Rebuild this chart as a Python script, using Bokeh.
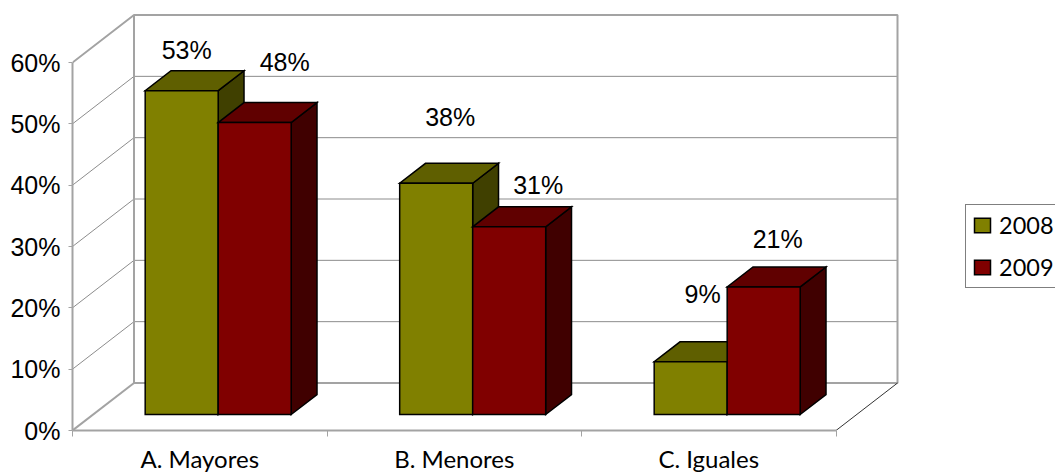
from bokeh.plotting import figure
from bokeh.models import FixedTicker, Legend, LegendItem, Range1d
from bokeh.embed import file_html
from bokeh.resources import INLINE
from bokeh.core.properties import value

categories = ["A. Mayores", "B. Menores", "C. Iguales"]
series_names = ["2008", "2009"]
values_2008 = [52.8, 37.7, 8.6]
values_2009 = [47.6, 30.6, 20.8]
labels_2008 = ["53%", "38%", "9%"]
labels_2009 = ["48%", "31%", "21%"]
y_ticks = [0, 10, 20, 30, 40, 50, 60]

# --- layout constants (page pixels -> data units)
WIDTH, HEIGHT = 1055, 473
FRAME_L, FRAME_B, FRAME_R, FRAME_T = 72, 430, 1055, 0
PX_X = 254.5            # pixels per category
PX_Y = 6.133            # pixels per percent
DX, DY = 61.5 / PX_X, 47.5 / PX_Y   # wall depth in data units
ncat = len(categories)
ymax = y_ticks[-1]

p = figure(width=WIDTH, height=HEIGHT, output_backend="svg", toolbar_location=None,
           x_range=Range1d(0, (FRAME_R - FRAME_L) / PX_X),
           y_range=Range1d(0, (FRAME_B - FRAME_T) / PX_Y),
           min_border_left=FRAME_L, min_border_right=0, min_border_top=0,
           min_border_bottom=HEIGHT - FRAME_B,
           frame_width=FRAME_R - FRAME_L, frame_height=FRAME_B - FRAME_T,
           outline_line_color=None, background_fill_color="white")
p.grid.visible = False

GRAY = "#a3a3a3"
THIN = "#8c8c8c"

# gridlines on left and back walls
for t in y_ticks[1:-1]:
    p.line([0, DX, ncat + DX], [t, t + DY, t + DY], line_color=THIN, line_width=1)
# back wall and left wall edges
p.line([0, DX, ncat + DX, ncat + DX, DX, DX], [ymax, ymax + DY, ymax + DY, DY, DY, ymax + DY],
       line_color=GRAY, line_width=2)
p.line([0, DX], [0, DY], line_color=GRAY, line_width=2)
p.line([ncat, ncat + DX], [0, DY], line_color="#333333", line_width=1)

# axes
ya = p.yaxis[0]
ya.ticker = FixedTicker(ticks=y_ticks)
ya.major_label_overrides = {t: f"{t}%" for t in y_ticks}
ya.bounds = (0, ymax)
ya.axis_line_color = GRAY
ya.axis_line_width = 2
ya.major_tick_line_color = GRAY
ya.major_tick_in = 0
ya.major_tick_out = 4
ya.minor_tick_line_color = None
ya.major_label_standoff = 8
ya.major_label_text_font = "Liberation Sans"
ya.major_label_text_font_size = "25px"
ya.major_label_text_color = "#000000"

xa = p.xaxis[0]
centers = [i + 0.5 for i in range(ncat)]
xa.ticker = FixedTicker(ticks=centers, minor_ticks=list(range(ncat + 1)))
xa.major_label_overrides = dict(zip(centers, categories))
xa.bounds = (0, ncat)
xa.axis_line_color = GRAY
xa.axis_line_width = 2
xa.major_tick_line_color = None
xa.minor_tick_line_color = GRAY
xa.minor_tick_in = 0
xa.minor_tick_out = 6
xa.major_label_standoff = 7
xa.major_label_text_font = "Lato"
xa.major_label_text_font_size = "24px"
xa.major_label_text_color = "#000000"

# bars
T0, T1 = 0.337, 0.757          # depth fractions of the bars' front and back
SHIFT = -0.009
BW = 73 / PX_X
COL = {"2008": ("#808000", "#5f5f00", "#404000"), "2009": ("#800000", "#600000", "#400000")}
OUT = dict(line_color="#000000", line_width=1.5, line_join="miter")
fronts = {}
for i in range(ncat):
    for j, (name, vals) in enumerate(zip(series_names, (values_2008, values_2009))):
        v = vals[i]
        x0 = i + 0.5 + SHIFT + (j - 1) * BW + T0 * DX
        x1 = x0 + BW
        yb = T0 * DY
        yt = yb + v
        ddx, ddy = (T1 - T0) * DX, (T1 - T0) * DY
        front, top, side = COL[name]
        p.patch([x1, x1 + ddx, x1 + ddx, x1], [yb, yb + ddy, yt + ddy, yt], fill_color=side, **OUT)
        p.patch([x0, x1, x1 + ddx, x0 + ddx], [yt, yt, yt + ddy, yt + ddy], fill_color=top, **OUT)
        r = p.quad(left=[x0], right=[x1], bottom=[yb], top=[yt], fill_color=front, **OUT)
        fronts.setdefault(name, r)

# data labels
LIFT = 10
LAB_OFF_2008 = [(5, 31), (14, 56), (12, 58)]
LAB_OFF_2009 = [(30, 51), (29, 32), (14, 38)]
for j, (vals, labs, offs) in enumerate(((values_2008, labels_2008, LAB_OFF_2008),
                                        (values_2009, labels_2009, LAB_OFF_2009))):
    for i in range(ncat):
        xc = i + 0.5 + SHIFT + (j - 0.5) * BW + T0 * DX
        yc = T0 * DY + vals[i]
        p.text([xc], [yc], text=[labs[i]], x_offset=offs[i][0], y_offset=-(offs[i][1] + LIFT),
               text_align="center", text_baseline="alphabetic",
               text_font=value("Liberation Sans"), text_font_size="25px", text_color="#000000")

legend = Legend(items=[LegendItem(label=n, renderers=[fronts[n]]) for n in series_names],
                location=(965 - FRAME_L, FRAME_B - 288), margin=0, padding=6,
                glyph_width=20, glyph_height=18, label_width=80, label_height=24, spacing=14,
                label_standoff=7, border_line_color="#000000", border_line_width=1,
                background_fill_color="white", background_fill_alpha=1,
                label_text_font="Lato", label_text_font_size="23.5px", label_text_color="#000000")
p.add_layout(legend)

open("out.html", "w").write(file_html(p, INLINE))
